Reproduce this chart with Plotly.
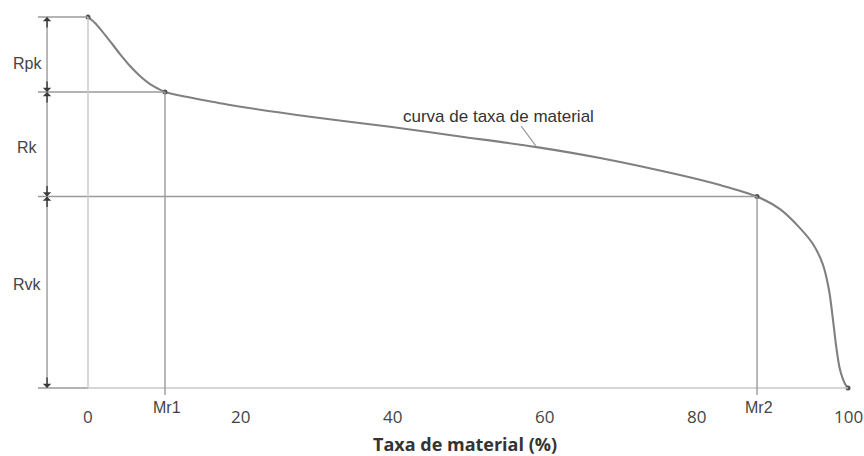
import plotly.graph_objects as go

# Material ratio curve (Abbott-Firestone)
mr = [0, 0.92, 1.84, 2.89, 4.21, 5.53, 6.84, 8.16, 9.21, 10.13, 11.45, 13.42, 18.68,
      29.21, 39.74, 48.95, 58.82, 67.37, 77.89, 83.16, 88.03, 91.05, 93.68, 95.39,
      96.71, 97.5, 98.03, 98.42, 98.95, 99.61, 100]
height = [10.0, 9.84, 9.62, 9.35, 9.00, 8.68, 8.41, 8.19, 8.07, 7.98, 7.91, 7.83, 7.63,
          7.31, 7.04, 6.78, 6.50, 6.20, 5.74, 5.47, 5.16, 4.82, 4.31, 3.88,
          3.32, 2.64, 1.83, 1.16, 0.49, 0.11, 0.0]

mr1 = 10.13
mr2 = 88.03
level_top = 10.0
level_mr1 = 7.98
level_mr2 = 5.16
level_bottom = 0.0

tick_vals = [0, 20, 40, 60, 80, 100]
tick_text = ["0", "20", "40", "60", "80", "100"]
dim_labels = ["Rpk", "Rk", "Rvk"]
curve_label = "curva de taxa de material"
x_title = "Taxa de material (%)"

x_left = -6.58   # left end of reference lines
x_dim = -5.39    # dimension line position
x_lab = -7.9     # dimension labels

LINE = "#9a9a9a"
LIGHT = "#c8c8c8"
CURVE = "#808080"
DARK = "#3a3a3a"

fig = go.Figure()

shapes = []
for lvl, xe in [(level_top, 0), (level_mr1, mr1), (level_mr2, mr2)]:
    shapes.append(dict(type="line", x0=x_left, x1=xe, y0=lvl, y1=lvl,
                       line=dict(color=LINE, width=1.6)))
shapes.append(dict(type="line", x0=x_left, x1=0, y0=level_bottom, y1=level_bottom,
                   line=dict(color=LINE, width=1.6)))
shapes.append(dict(type="line", x0=0, x1=100, y0=level_bottom, y1=level_bottom,
                   line=dict(color=LIGHT, width=1.6)))
shapes.append(dict(type="line", x0=0, x1=0, y0=level_bottom, y1=level_top,
                   line=dict(color=LIGHT, width=1.4)))
shapes.append(dict(type="line", x0=mr1, x1=mr1, y0=-0.19, y1=level_mr1,
                   line=dict(color=LINE, width=1.4)))
shapes.append(dict(type="line", x0=mr2, x1=mr2, y0=-0.19, y1=level_mr2,
                   line=dict(color=LINE, width=1.4)))
shapes.append(dict(type="line", x0=x_dim, x1=x_dim, y0=level_bottom, y1=level_top,
                   line=dict(color=LINE, width=1.4)))
shapes.append(dict(type="line", x0=57.0, x1=58.9, y0=7.06, y1=6.53,
                   line=dict(color=LINE, width=1.2)))

fig.add_trace(go.Scatter(x=mr, y=height, mode="lines",
                         line=dict(color=CURVE, width=2.1, shape="spline", smoothing=0.8),
                         hoverinfo="skip", cliponaxis=False))
fig.add_trace(go.Scatter(x=[0, mr1, mr2, 100], y=[level_top, level_mr1, level_mr2, level_bottom],
                         mode="markers", marker=dict(color="#555555", size=5),
                         hoverinfo="skip", cliponaxis=False))

ann = []
arrow_pts = [(level_top, 1), (level_mr1, -1), (level_mr1, 1), (level_mr2, -1), (level_mr2, 1), (level_bottom, -1)]
for lvl, d in arrow_pts:
    ann.append(dict(x=x_dim, y=lvl, xref="x", yref="y", text="", showarrow=True,
                    ax=0, ay=12 * d, arrowhead=1, arrowsize=1.0, arrowwidth=1.4, arrowcolor=DARK))
for lab, yy in zip(dim_labels, [8.76, 6.47, 2.78]):
    ann.append(dict(x=x_lab, y=yy, xref="x", yref="y", text=lab, showarrow=False,
                    font=dict(family="Liberation Sans", size=16, color="#444444")))
for v, t in zip(tick_vals, tick_text):
    ann.append(dict(x=v, y=-0.78, xref="x", yref="y", text=t, showarrow=False,
                    font=dict(family="Open Sans", size=17, color="#444444")))
for v, t in [(mr1, "Mr1"), (mr2, "Mr2")]:
    ann.append(dict(x=v + 0.3, y=-0.52, xref="x", yref="y", text=t, showarrow=False,
                    font=dict(family="Liberation Sans", size=16, color="#444444")))
ann.append(dict(x=53.96, y=7.33, xref="x", yref="y", text=curve_label, showarrow=False,
                font=dict(family="Liberation Sans", size=17, color="#333333")))
ann.append(dict(x=49.6, y=-1.52, xref="x", yref="y", text="<b>" + x_title + "</b>", showarrow=False,
                font=dict(family="Open Sans", size=18, color="#333333")))

fig.update_layout(
    width=864, height=456,
    margin=dict(l=0, r=0, t=0, b=0),
    paper_bgcolor="white", plot_bgcolor="white",
    showlegend=False,
    shapes=shapes, annotations=ann,
    xaxis=dict(range=[-11.579, 102.105], visible=False, fixedrange=True),
    yaxis=dict(range=[-1.833, 10.458], visible=False, fixedrange=True),
)

fig.write_html("out.html", config={"displayModeBar": False},
               post_script="document.body.style.margin='0';document.body.style.overflow='hidden';")
